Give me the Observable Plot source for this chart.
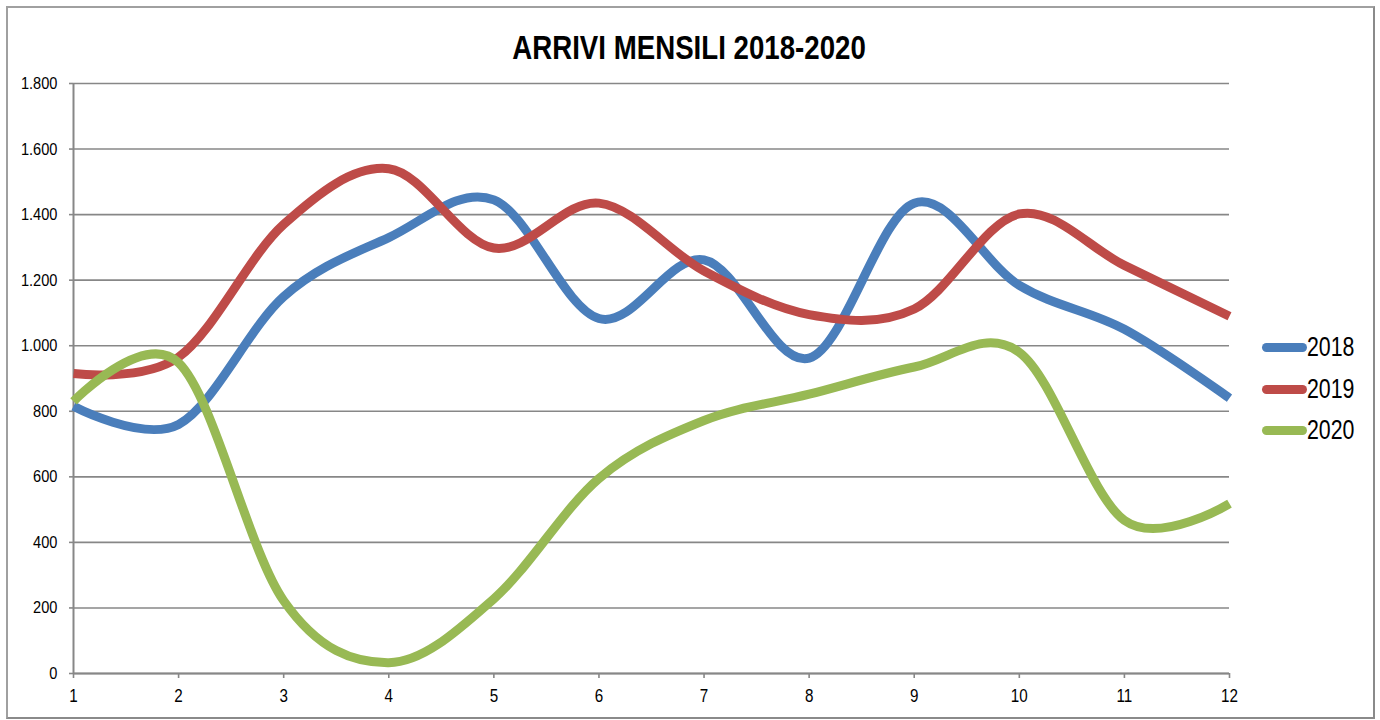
<!DOCTYPE html>
<html>
<head>
<meta charset="utf-8">
<script src="https://cdn.jsdelivr.net/npm/d3@7"></script>
<script src="https://cdn.jsdelivr.net/npm/@observablehq/plot@0.6"></script>
<style>
  html, body { margin: 0; padding: 0; background: #fff; }
  #wrap { position: relative; width: 1380px; height: 720px; overflow: hidden; font-family: "Liberation Sans", Arial, sans-serif; }
  #frame { position: absolute; left: 6px; top: 6px; width: 1365px; height: 709px; border: 2px solid #a0a0a0; border-right-color: #8a8a8a; border-bottom-color: #8a8a8a; pointer-events: none; }
  #title { position: absolute; left: 0; width: 1380px; top: 28px; text-align: center; font-weight: bold; font-size: 33px; color: #000; line-height: 40px; transform: scaleX(0.838); transform-origin: 684px 50%; }
  #legend { position: absolute; left: 1262px; top: 328px; }
  .lg { position: relative; height: 41.5px; }
  .lg .sw { position: absolute; left: 0; top: 15px; width: 45px; height: 9px; border-radius: 5px; }
  .lg .tx { position: absolute; left: 45px; top: 0; font-size: 27px; line-height: 39px; color: #000; transform: scaleX(0.79); transform-origin: 0 50%; }
  #chart { position: absolute; left: 0; top: 0; }
</style>
</head>
<body>
<div id="wrap">
  <div id="chart"></div>
  <div id="title">ARRIVI MENSILI 2018-2020</div>
  <div id="legend"></div>
  <div id="frame"></div>
</div>
<script>
const months = [1, 2, 3, 4, 5, 6, 7, 8, 9, 10, 11, 12];
const series = ["2018", "2019", "2020"];
const colors = ["#4A7EBB", "#BE4B48", "#98B954"];
const values2018 = [815, 760, 1150, 1330, 1445, 1083, 1262, 962, 1435, 1184, 1050, 840];
const values2019 = [915, 965, 1370, 1540, 1298, 1435, 1228, 1095, 1112, 1402, 1245, 1090];
const values2020 = [830, 948, 222, 33, 228, 595, 772, 852, 935, 980, 467, 518];
const yTicks = [0, 200, 400, 600, 800, 1000, 1200, 1400, 1600, 1800];
const xTicks = months;

const allValues = [values2018, values2019, values2020];
const data = [];
series.forEach((s, i) => months.forEach((m, j) => data.push({month: m, value: allValues[i][j], series: s})));

const itLocale = d3.formatLocale({decimal: ",", thousands: ".", grouping: [3], currency: ["€", ""]});
const fmt = itLocale.format(",d");

const gridColor = "#878787";

const chart = Plot.plot({
  width: 1380,
  height: 720,
  marginLeft: 73,
  marginRight: 151,
  marginTop: 83,
  marginBottom: 47,
  style: {fontFamily: '"Liberation Sans", Arial, sans-serif', background: "transparent"},
  x: {domain: [1, 12], label: null},
  y: {domain: [0, 1800], label: null},
  color: {domain: series, range: colors},
  marks: [
    Plot.gridY(yTicks, {stroke: gridColor, strokeOpacity: 1, strokeWidth: 1.6}),
    Plot.axisY(yTicks, {tickFormat: fmt, tickSize: 4, tickPadding: 12, stroke: gridColor, strokeWidth: 1.6, fontSize: 17, fill: "#000", label: null}),
    Plot.axisX(xTicks, {tickFormat: d => String(d), tickSize: 5, tickPadding: 10, stroke: gridColor, strokeWidth: 1.6, fontSize: 19, fill: "#000", label: null}),
    Plot.ruleX([1], {stroke: gridColor, strokeWidth: 2}),
    Plot.ruleY([0], {stroke: gridColor, strokeWidth: 2}),
    Plot.line(data, {x: "month", y: "value", z: "series", stroke: "series", strokeWidth: 9, curve: "cardinal", tension: 0, strokeLinecap: "butt", strokeLinejoin: "round"})
  ]
});
document.getElementById("chart").appendChild(chart);

// condense tick label glyphs (narrow font look) while keeping anchors
function condense(selector, s) {
  chart.querySelectorAll(selector).forEach(el => {
    const t = el.getAttribute("transform") || "";
    el.setAttribute("transform", `${t} scale(${s},1)`);
  });
}
condense('g[aria-label="y-axis tick label"] text', 0.86);
condense('g[aria-label="x-axis tick label"] text', 0.8);

const legend = document.getElementById("legend");
series.forEach((s, i) => {
  const row = document.createElement("div");
  row.className = "lg";
  row.innerHTML = `<div class="sw" style="background:${colors[i]}"></div><div class="tx">${s}</div>`;
  legend.appendChild(row);
});
</script>
</body>
</html>
